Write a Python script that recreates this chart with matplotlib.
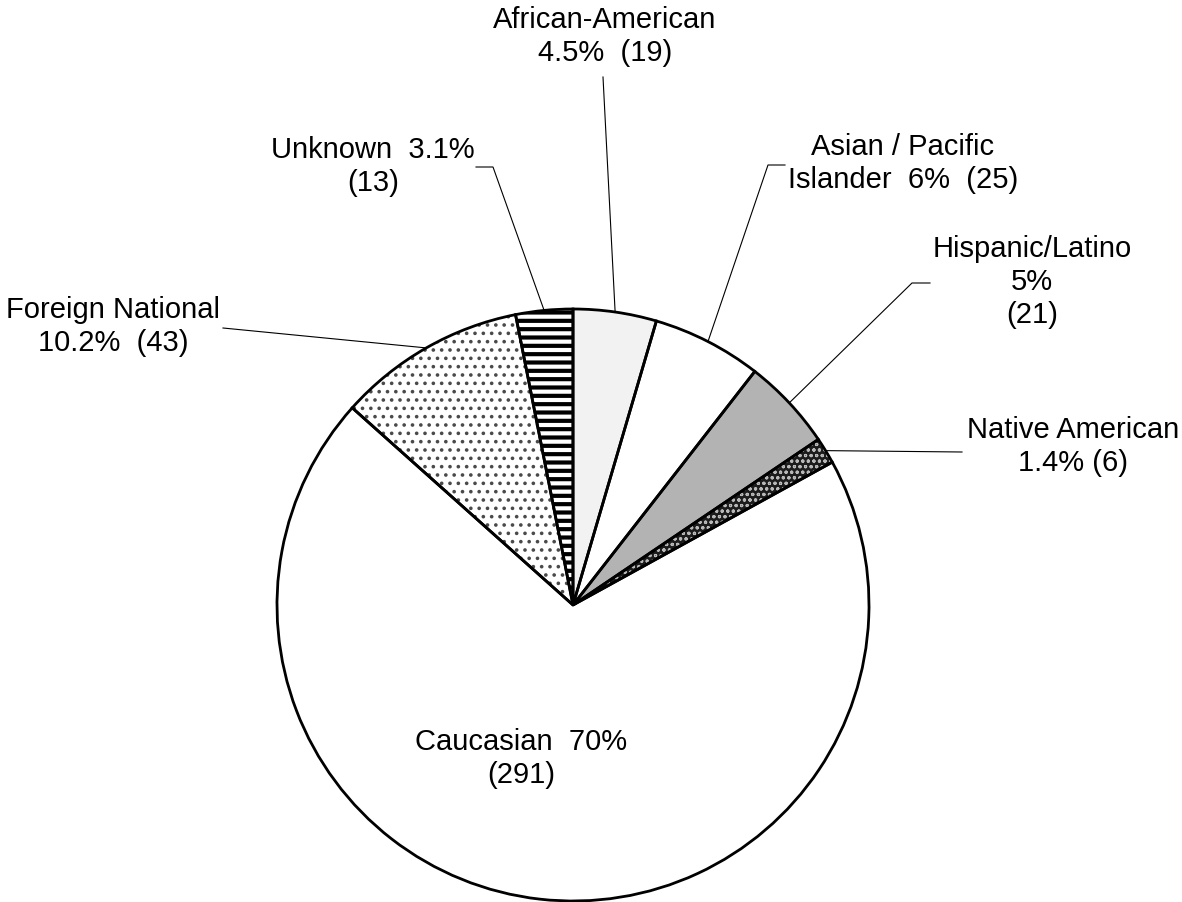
import numpy as np
import matplotlib.pyplot as plt
from matplotlib.patches import Wedge

# datos del grafico
grupos = ['African-American', 'Asian / Pacific Islander', 'Hispanic/Latino',
          'Native American', 'Caucasian', 'Foreign National', 'Unknown']
cantidades = [19, 25, 21, 6, 291, 43, 13]
etiquetas = [
    ['African-American', '4.5%  (19)'],
    ['Asian / Pacific', 'Islander  6%  (25)'],
    ['Hispanic/Latino', '5%', '(21)'],
    ['Native American', '1.4% (6)'],
    ['Caucasian  70%', '(291)'],
    ['Foreign National', '10.2%  (43)'],
    ['Unknown  3.1%', '(13)'],
]

# estilos de cada porcion
colores = ['#f2f2f2', 'white', '#b3b3b3', '#1c1c1c', 'white', 'white', 'white']
tramas = [None, None, None, 'ooo', None, '..', '--']
color_trama = [None, None, None, '#b8b8b8', None, '#4a4a4a', 'black']
ancho_trama = [None, None, None, 0.8, None, 1.4, 3.0]

# posicion de los textos (x centro, linea base de la primera linea) en pixeles
W, H = 1182, 902
pos_texto = [(605, 28), (903, 155), (1032, 257), (1073, 438),
             (521, 750), (113, 318), (373, 158)]
salto = 33
# lineas guia: puntos desde el texto hasta el codo (None = sin linea)
guias = [[(603, 77)],
         [(785, 165), (768, 165)],
         [(930, 283), (912, 283)],
         [(962, 452)],
         None,
         [(223, 328)],
         [(476, 167), (493, 167)]]

centro = (573, H - 605)
radio = 296

fig = plt.figure(figsize=(W / 100, H / 100), dpi=100)
ax = fig.add_axes([0, 0, 1, 1])

wedges, _ = ax.pie(cantidades, startangle=90, counterclock=False, center=centro,
                   radius=radio, colors=colores, wedgeprops=dict(linewidth=0))

for w, t, tc, tl in zip(wedges, tramas, color_trama, ancho_trama):
    if t is not None:
        if hasattr(w, 'set_hatch_linewidth'):
            w.set_hatch_linewidth(tl)
        else:
            plt.rcParams['hatch.linewidth'] = tl
        w.set_hatch(t)
        w.set_edgecolor(tc)
        w.set_linewidth(0)
    # borde negro
    ax.add_patch(Wedge(w.center, w.r, w.theta1, w.theta2, fill=False,
                       edgecolor='black', linewidth=2, zorder=3))

# lineas guia
for w, g in zip(wedges, guias):
    if g is None:
        continue
    ang = np.deg2rad((w.theta1 + w.theta2) / 2)
    xs = [p[0] for p in g] + [w.center[0] + w.r * np.cos(ang)]
    ys = [H - p[1] for p in g] + [w.center[1] + w.r * np.sin(ang)]
    ax.plot(xs, ys, color='black', linewidth=0.8, zorder=2)

# textos
for lineas, (x, y) in zip(etiquetas, pos_texto):
    for i, s in enumerate(lineas):
        ax.text(x, H - (y + i * salto), s, ha='center', va='baseline',
                fontsize=21, family='Liberation Sans')

ax.set_xlim(0, W)
ax.set_ylim(0, H)
ax.set_aspect('equal')
ax.axis('off')

plt.savefig('out.png', dpi=100)
